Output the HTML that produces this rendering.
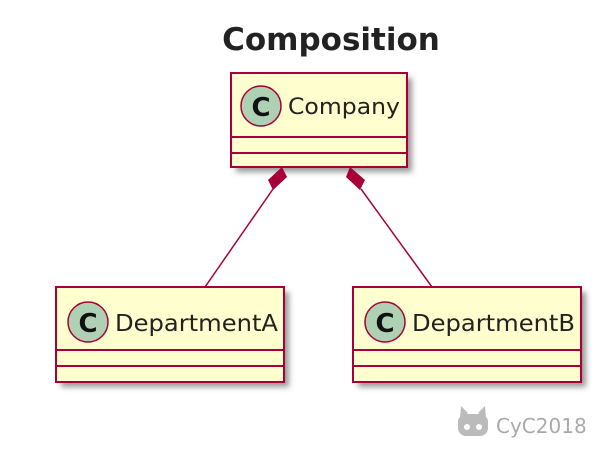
<!DOCTYPE html>
<html><head><style>body{margin:0;background:#fff}</style></head><body>
<svg width="611" height="452" xmlns="http://www.w3.org/2000/svg" font-family="DejaVu Sans, Liberation Sans, sans-serif">
<defs><filter id="s" x="-10%" y="-10%" width="130%" height="130%"><feGaussianBlur stdDeviation="3"/></filter></defs>
<text x="331" y="50" text-anchor="middle" font-size="31" font-weight="bold" fill="#222">Composition</text>
<g>
<rect x="236" y="78" width="176" height="94" fill="#999" filter="url(#s)"/>
<rect x="231" y="73" width="176" height="94" fill="#FEFECE" stroke="#A80036" stroke-width="2"/>
<line x1="231" y1="137" x2="407" y2="137" stroke="#A80036" stroke-width="2"/>
<line x1="231" y1="153" x2="407" y2="153" stroke="#A80036" stroke-width="2"/>
<circle cx="261" cy="106" r="20" fill="#ADD1B2" stroke="#A80036" stroke-width="1.5"/>
<text x="261" y="116" text-anchor="middle" font-size="26" font-weight="bold" fill="#111">C</text>
<text x="288" y="114" font-size="22" fill="#222" textLength="112" lengthAdjust="spacingAndGlyphs">Company</text>
</g>
<g>
<rect x="61" y="292" width="228" height="95" fill="#999" filter="url(#s)"/>
<rect x="56" y="287" width="228" height="95" fill="#FEFECE" stroke="#A80036" stroke-width="2"/>
<line x1="56" y1="350" x2="284" y2="350" stroke="#A80036" stroke-width="2"/>
<line x1="56" y1="366" x2="284" y2="366" stroke="#A80036" stroke-width="2"/>
<circle cx="88" cy="322" r="20" fill="#ADD1B2" stroke="#A80036" stroke-width="1.5"/>
<text x="88" y="332" text-anchor="middle" font-size="26" font-weight="bold" fill="#111">C</text>
<text x="115" y="331" font-size="23" fill="#222" textLength="163" lengthAdjust="spacingAndGlyphs">DepartmentA</text>
</g>
<g>
<rect x="358" y="292" width="228" height="95" fill="#999" filter="url(#s)"/>
<rect x="353" y="287" width="228" height="95" fill="#FEFECE" stroke="#A80036" stroke-width="2"/>
<line x1="353" y1="350" x2="581" y2="350" stroke="#A80036" stroke-width="2"/>
<line x1="353" y1="366" x2="581" y2="366" stroke="#A80036" stroke-width="2"/>
<circle cx="385" cy="322" r="20" fill="#ADD1B2" stroke="#A80036" stroke-width="1.5"/>
<text x="385" y="332" text-anchor="middle" font-size="26" font-weight="bold" fill="#111">C</text>
<text x="412" y="331" font-size="23" fill="#222" textLength="163" lengthAdjust="spacingAndGlyphs">DepartmentB</text>
</g>
<line x1="273" y1="189" x2="205" y2="287" stroke="#A80036" stroke-width="1.5"/>
<polygon points="282,167 287,177 273,190 268,180" fill="#A80036"/>
<line x1="361" y1="189" x2="432" y2="287" stroke="#A80036" stroke-width="1.5"/>
<polygon points="350,167 365,180 360,190 346,177" fill="#A80036"/>
<g fill="#bbb">
<rect x="458" y="414" width="30" height="22" rx="8"/>
<polygon points="460,418 461,406 468,413"/>
<polygon points="486,418 485,406 478,413"/>
</g>
<circle cx="467" cy="427" r="3" fill="#fff"/><circle cx="479" cy="427" r="3" fill="#fff"/>
<text x="496" y="433" font-size="20" fill="#aaa">CyC2018</text>
</svg>
</body></html>
